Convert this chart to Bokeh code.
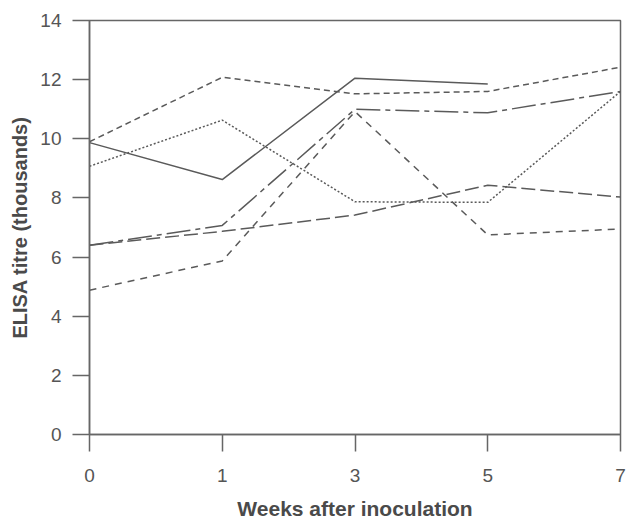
import math
from bokeh.plotting import figure
from bokeh.models import FixedTicker, Range1d
from bokeh.embed import file_html
from bokeh.resources import INLINE

weeks = ["0", "1", "3", "5", "7"]
y_ticks = [0, 2, 4, 6, 8, 10, 12, 14]

series_solid = [9.87, 8.62, 12.05, 11.85, math.nan]
series_dash_top = [9.9, 12.08, 11.52, 11.6, 12.42]
series_dotted = [9.07, 10.63, 7.87, 7.85, 11.6]
series_dashdot = [6.4, 7.07, 11.0, 10.88, 11.6]
series_longdash = [6.4, 6.87, 7.42, 8.43, 8.03]
series_dash_low = [4.88, 5.87, 10.92, 6.75, 6.95]

x_idx = list(range(len(weeks)))

p = figure(width=626, height=522, output_backend="svg", toolbar_location=None,
           x_range=Range1d(0, len(weeks) - 1), y_range=Range1d(0, 14),
           min_border_left=89, min_border_right=6, min_border_top=20, min_border_bottom=10)

col = "#5a5a5a"
styles = [
    (series_solid, "solid"),
    (series_dash_top, "6 4"),
    (series_dotted, "2 2"),
    (series_dashdot, "24 5 5 5"),
    (series_longdash, "14 5"),
    (series_dash_low, "7 6"),
]
for ys, dash in styles:
    p.line(x_idx, ys, line_color=col, line_width=1.5, line_dash=dash)

p.grid.visible = False
p.outline_line_color = "#666666"
p.outline_line_width = 1.5

p.xaxis.ticker = FixedTicker(ticks=x_idx)
p.xaxis.major_label_overrides = {i: w for i, w in enumerate(weeks)}
p.yaxis.ticker = FixedTicker(ticks=y_ticks)

for ax in (p.xaxis, p.yaxis):
    ax.axis_line_color = "#666666"
    ax.axis_line_width = 1.5
    ax.major_tick_line_color = "#666666"
    ax.major_tick_line_width = 1.5
    ax.major_tick_in = 0
    ax.major_tick_out = 17
    ax.minor_tick_line_color = None
    ax.major_label_text_font = "Liberation Sans"
    ax.major_label_text_font_size = "19px"
    ax.major_label_text_color = "#555555"
    ax.axis_label_text_font = "Liberation Sans"
    ax.axis_label_text_font_style = "bold"
    ax.axis_label_text_color = "#4a4a4a"

p.xaxis.axis_label_text_font_size = "21px"
p.yaxis.axis_label_text_font_size = "20px"
p.xaxis.axis_label = "Weeks after inoculation"
p.yaxis.axis_label = "ELISA titre (thousands)"
p.xaxis.major_label_standoff = 17
p.yaxis.major_label_standoff = 11
p.xaxis.axis_label_standoff = 12
p.yaxis.axis_label_standoff = 6

open("out.html", "w").write(file_html(p, INLINE))
